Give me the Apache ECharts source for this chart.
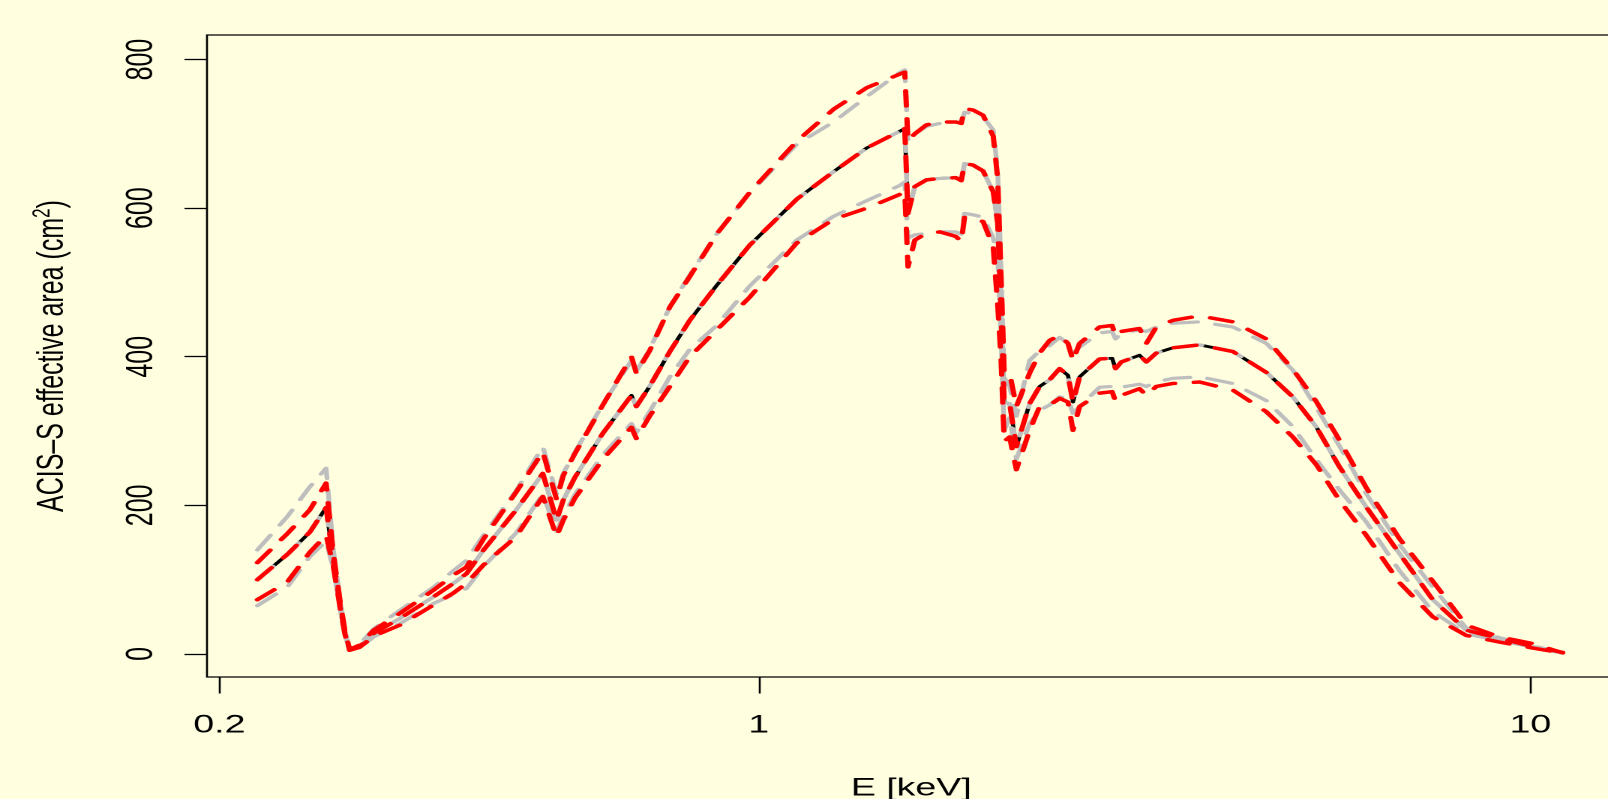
<!DOCTYPE html>
<html>
<head>
<meta charset="utf-8">
<script src="https://cdn.jsdelivr.net/npm/echarts@6/dist/echarts.min.js"></script>
<style>
    html, body { margin: 0; padding: 0; background: #FFFFE0; overflow: hidden; width: 1608px; height: 799px; }
    /* the original R device was stretched 1.5x horizontally */
    #chart { width: 1072px; height: 799px; transform: scaleX(1.5); transform-origin: 0 0; }
</style>
</head>
<body>
<div id="chart"></div>
<script>
    'use strict';

    // energy grid, keV
    var energy = [0.224, 0.245, 0.262, 0.275, 0.281, 0.287, 0.291, 0.295, 0.304, 0.317,
        0.343, 0.379, 0.402, 0.418, 0.44, 0.485, 0.525, 0.547, 0.558, 0.578,
        0.628, 0.684, 0.694, 0.722, 0.767, 0.814, 0.882, 0.973, 1.12, 1.25,
        1.38, 1.52, 1.546, 1.561, 1.593, 1.649, 1.716, 1.8, 1.83, 1.848,
        1.895, 1.953, 2.013, 2.04, 2.06, 2.08, 2.114, 2.157, 2.244, 2.312,
        2.382, 2.454, 2.516, 2.554, 2.605, 2.765, 2.87, 2.9, 2.95, 3.115,
        3.179, 3.275, 3.441, 3.726, 4.116, 4.547, 4.922, 5.276, 5.655, 6.125,
        6.767, 7.473, 8.255, 9.117, 10.07, 11.01];

    // effective area, cm^2
    var nominal = [100, 134, 164, 197, 126, 64, 28, 6, 10, 28,
        48, 77, 95, 108, 140, 194, 243, 180, 207, 238,
        297, 348, 333, 360, 407, 449, 496, 550, 612, 649,
        681, 703, 707, 593, 629, 638, 640, 641, 637, 660,
        658, 650, 622, 580, 467, 338, 337, 279, 337, 360,
        369, 384, 375, 339, 373, 397, 398, 384, 393, 402,
        393, 405, 412, 416, 407, 379, 346, 306, 252, 198,
        135, 73, 32, 21, 10, 2];

    var redUpper = [123, 162, 194, 230, 135, 68, 30, 6, 12, 32,
        55, 86, 106, 117, 155, 218, 272, 208, 240, 270,
        335, 400, 378, 408, 467, 508, 565, 621, 690, 733,
        762, 780, 783, 691, 700, 712, 716, 716, 714, 734,
        732, 725, 697, 640, 512, 380, 378, 333, 378, 405,
        422, 429, 418, 395, 418, 440, 442, 428, 434, 438,
        418, 440, 449, 455, 447, 424, 383, 340, 288, 224,
        155, 98, 39, 23, 14, 1.5];

    var redLower = [73, 97, 137, 160, 118, 60, 26, 5, 9, 24,
        39, 66, 82, 95, 120, 158, 212, 158, 180, 210,
        262, 305, 290, 320, 360, 400, 436, 480, 553, 585,
        600, 618, 622, 521, 557, 566, 568, 562, 555, 588,
        585, 582, 548, 470, 400, 286, 292, 248, 301, 333,
        335, 344, 339, 301, 333, 351, 353, 340, 348, 357,
        348, 360, 364, 366, 355, 326, 292, 255, 207, 160,
        96, 50, 25, 16, 8, 1];

    var grayUpper = [140, 185, 225, 250, 140, 70, 31, 6, 13, 34,
        59, 90, 112, 126, 160, 220, 279, 215, 243, 272,
        336, 395, 380, 410, 467, 510, 565, 620, 686, 716,
        750, 782, 786, 691, 700, 710, 714, 716, 714, 729,
        727, 723, 705, 650, 520, 372, 360, 320, 395, 408,
        415, 426, 418, 405, 413, 432, 434, 424, 432, 436,
        434, 440, 445, 447, 440, 418, 382, 332, 280, 216,
        147, 90, 35, 22, 11, 1.5];

    var grayLower = [65, 90, 131, 152, 115, 58, 25, 5, 8, 23,
        41, 68, 80, 88, 118, 163, 215, 165, 185, 215,
        268, 310, 298, 326, 373, 410, 442, 495, 557, 589,
        610, 630, 635, 560, 564, 566, 568, 568, 565, 593,
        591, 588, 560, 534, 430, 300, 319, 262, 310, 328,
        335, 346, 344, 324, 333, 359, 360, 356, 359, 363,
        360, 366, 371, 373, 364, 341, 306, 262, 221, 178,
        112, 57, 27, 18, 9, 1];

    var xTicks = [0.2, 1, 10];
    var yTicks = [0, 200, 400, 600, 800];

    var FONT = 'Liberation Sans';

    function pairs(vals) {
        return energy.map(function (e, i) {
            return [e, vals[i]];
        });
    }

    function line(name, vals, color, width, dash) {
        return {
            name: name,
            type: 'line',
            data: pairs(vals),
            symbol: 'none',
            silent: true,
            lineStyle: {
                color: color,
                width: width,
                type: dash || 'solid',
                cap: 'round',
                join: 'round'
            }
        };
    }

    var chart = echarts.init(document.getElementById('chart'), null, {devicePixelRatio: 2});

    chart.setOption({
        backgroundColor: '#FFFFE0',
        animation: false,
        grid: {
            left: 138,
            top: 35,
            width: 939,
            height: 642,
            outerBoundsMode: 'none',
            containLabel: false,
            show: true,
            backgroundColor: 'transparent',
            borderColor: '#000',
            borderWidth: 1.3
        },
        xAxis: {
            type: 'log',
            logBase: 10,
            min: 0.19275,
            max: 12.89,
            name: 'E [keV]',
            nameLocation: 'middle',
            nameGap: 99,
            nameTextStyle: {color: '#000', fontFamily: FONT, fontSize: 25},
            axisLine: {show: false, onZero: false},
            axisTick: {
                show: true,
                length: 16.5,
                customValues: xTicks,
                lineStyle: {color: '#000', width: 1.3}
            },
            minorTick: {show: false},
            axisLabel: {
                customValues: xTicks,
                margin: 36,
                color: '#000',
                fontFamily: FONT,
                fontSize: 25,
                formatter: function (v) { return String(v); }
            },
            splitLine: {show: false}
        },
        yAxis: {
            type: 'value',
            min: -31,
            max: 833,
            name: 'ACIS\u2013S effective area (cm{sup|2})',
            nameLocation: 'middle',
            nameRotate: 90,
            nameGap: 88,
            nameTextStyle: {
                color: '#000',
                fontFamily: FONT,
                fontSize: 25,
                lineHeight: 30,
                rich: {
                    sup: {color: '#000', fontFamily: FONT, fontSize: 17, lineHeight: 17, verticalAlign: 'top'}
                }
            },
            axisLine: {show: false, onZero: false},
            axisTick: {
                show: true,
                length: 15,
                customValues: yTicks,
                lineStyle: {color: '#000', width: 1.3}
            },
            axisLabel: {
                customValues: yTicks,
                rotate: 90,
                margin: 31,
                color: '#000',
                fontFamily: FONT,
                fontSize: 25
            },
            splitLine: {show: false}
        },
        series: [
            line('nominal', nominal, '#000000', 2.8),
            line('gray lower', grayLower, '#BEBEBE', 3.2, [17, 12]),
            line('gray nominal', nominal, '#BEBEBE', 3.2, [17, 12]),
            line('gray upper', grayUpper, '#BEBEBE', 3.2, [17, 12]),
            line('red lower', redLower, '#FF0000', 3.5, [15, 13]),
            line('red nominal', nominal, '#FF0000', 3.5, [15, 13]),
            line('red upper', redUpper, '#FF0000', 3.5, [15, 13])
        ]
    });
</script>
</body>
</html>
